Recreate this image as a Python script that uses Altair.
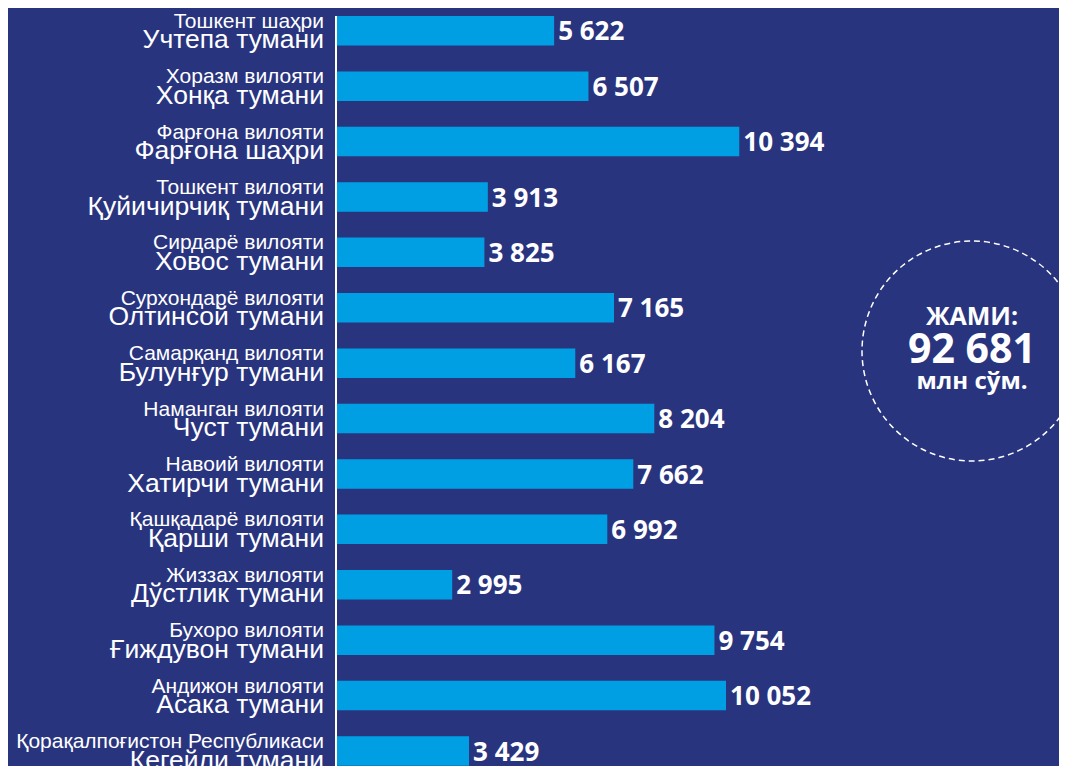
import altair as alt
import pandas as pd

regions = [
    "Тошкент шаҳри", "Хоразм вилояти", "Фарғона вилояти", "Тошкент вилояти",
    "Сирдарё вилояти", "Сурхондарё вилояти", "Самарқанд вилояти", "Наманган вилояти",
    "Навоий вилояти", "Қашқадарё вилояти", "Жиззах вилояти", "Бухоро вилояти",
    "Андижон вилояти", "Қорақалпоғистон Республикаси",
]
districts = [
    "Учтепа тумани", "Хонқа тумани", "Фарғона шаҳри", "Қуйичирчиқ тумани",
    "Ховос тумани", "Олтинсой тумани", "Булунғур тумани", "Чуст тумани",
    "Хатирчи тумани", "Қарши тумани", "Дўстлик тумани", "Ғиждувон тумани",
    "Асака тумани", "Кегейли тумани",
]
values = [5622, 6507, 10394, 3913, 3825, 7165, 6167, 8204, 7662, 6992, 2995, 9754, 10052, 3429]

total_title = ["ЖАМИ:"]
total_value = ["92 681"]
total_unit = ["млн сўм."]

BG = "#29347f"
BAR = "#009fe3"

df = pd.DataFrame({
    "region": regions,
    "district": districts,
    "value": values,
    "label": [f"{v:,}".replace(",", " ") for v in values],
})

W, H = 723, 758

y_enc = alt.Y(
    "district:N",
    sort=districts,
    axis=None,
    scale=alt.Scale(range=[8, 757.7], paddingInner=0.4675, paddingOuter=0),
)
x_scale = alt.Scale(domain=[0, 18634])

base = alt.Chart(df)

bars = base.mark_bar(color=BAR, cornerRadius=0).encode(
    x=alt.X("value:Q", scale=x_scale, axis=None),
    y=y_enc,
)

vals = base.mark_text(
    align="left", baseline="alphabetic", dx=4, dy=9.7,
    font="Open Sans", fontWeight="bold", fontSize=26, color="white",
).encode(
    x=alt.X("value:Q", scale=x_scale),
    y=y_enc,
    text="label:N",
)

reg = base.mark_text(
    align="right", baseline="alphabetic", dy=-3,
    font="Liberation Sans", fontSize=21, color="white",
).encode(
    x=alt.value(-12),
    y=y_enc,
    text="region:N",
)

dist = base.mark_text(
    align="right", baseline="alphabetic", dy=17.7,
    font="Liberation Sans", fontSize=26.5, color="white",
).encode(
    x=alt.value(-12),
    y=y_enc,
    text="district:N",
)

axis_line = alt.Chart(pd.DataFrame({"a": [0]})).mark_rule(color="white", strokeWidth=2).encode(
    x=alt.value(0), y=alt.value(8), y2=alt.value(H)
)

circle = alt.Chart(pd.DataFrame({"a": [0]})).mark_point(
    shape="circle", size=48400, filled=False, color="white",
    strokeWidth=1.5, strokeDash=[6, 4], opacity=1,
).encode(x=alt.value(636), y=alt.value(343))

t1 = alt.Chart(pd.DataFrame({"t": total_title})).mark_text(
    align="center", baseline="alphabetic", font="Open Sans", fontWeight="bold",
    fontSize=25, color="white",
).encode(x=alt.value(636), y=alt.value(317), text="t:N")

t2 = alt.Chart(pd.DataFrame({"t": total_value})).mark_text(
    align="center", baseline="alphabetic", font="Open Sans", fontWeight="bold",
    fontSize=41, color="white",
).encode(x=alt.value(636), y=alt.value(355.3), text="t:N")

t3 = alt.Chart(pd.DataFrame({"t": total_unit})).mark_text(
    align="center", baseline="alphabetic", font="Open Sans", fontWeight="bold",
    fontSize=24, color="white",
).encode(x=alt.value(636), y=alt.value(381.3), text="t:N")

chart = alt.layer(bars, vals, reg, dist, axis_line, circle, t1, t2, t3).properties(
    width=W, height=H,
    background=BG,
    padding={"left": 328, "top": 0, "right": 0, "bottom": 0},
    autosize=alt.AutoSizeParams(type="none"),
).configure_view(stroke=None)

chart.save("out.html", embed_options={"renderer": "svg", "actions": False})
